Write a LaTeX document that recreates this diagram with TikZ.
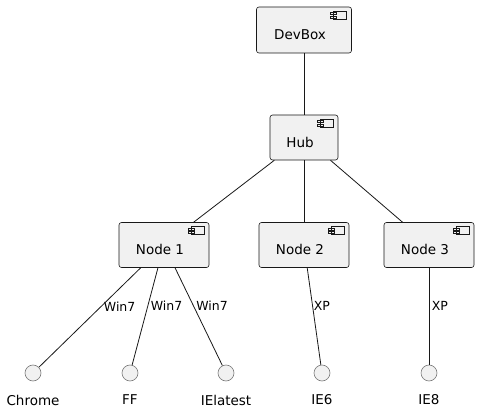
\documentclass[tikz,border=0pt]{standalone}
\usepackage{fontspec}
\setmainfont{DejaVu Sans}
\definecolor{boxfill}{HTML}{F1F1F1}
\definecolor{boxline}{HTML}{181818}
\definecolor{circline}{HTML}{7A7A7A}
\begin{document}
\begin{tikzpicture}[x=1pt,y=-1pt,
  comp/.style={draw=boxline, fill=boxfill, rounded corners=2.5pt, line width=0.6pt,
    minimum height=45pt, inner sep=0pt, font=\fontsize{13.5}{16}\selectfont, text=black,
    text height=19.5pt, text depth=0pt,
    path picture={
      \draw[draw=boxline, fill=boxfill, line width=0.5pt, sharp corners]
      ([xshift=-18pt,yshift=-4pt]path picture bounding box.north east) rectangle ([xshift=-5pt,yshift=-12pt]path picture bounding box.north east)
      ([xshift=-21pt,yshift=-5.5pt]path picture bounding box.north east) rectangle ([xshift=-15pt,yshift=-7.5pt]path picture bounding box.north east)
      ([xshift=-21pt,yshift=-9pt]path picture bounding box.north east) rectangle ([xshift=-15pt,yshift=-11pt]path picture bounding box.north east);
    }},
  iface/.style={circle, draw=circline, fill=boxfill, line width=0.6pt, minimum size=16pt, inner sep=0pt},
  lbl/.style={font=\fontsize{13.5}{16}\selectfont, text=black},
  elbl/.style={font=\fontsize{12.5}{15}\selectfont, text=black, anchor=west, xshift=2.5pt, inner sep=0pt},
  conn/.style={draw=boxline, line width=0.8pt}]
\useasboundingbox (0,0) rectangle (487,419);

\node[comp, minimum width=95pt, minimum height=46pt] (devbox) at (304,30) {DevBox\hspace*{8pt}};
\node[comp, minimum width=68pt] (hub) at (304,137.5) {Hub\hspace*{8pt}};
\node[comp, minimum width=90pt] (n1) at (164,245) {Node 1\hspace*{8pt}};
\node[comp, minimum width=90pt] (n2) at (304,245) {Node 2\hspace*{8pt}};
\node[comp, minimum width=90pt] (n3) at (429,245) {Node 3\hspace*{8pt}};

\node[iface] (chrome) at (33,373) {};
\node[iface] (ff) at (130,373) {};
\node[iface] (ielatest) at (226,373) {};
\node[iface] (ie6) at (322,373) {};
\node[iface] (ie8) at (429,373) {};

\node[lbl] (tchrome) at (33,400) {Chrome};
\node[lbl] (tff) at (130,400) {FF};
\node[lbl] (tielatest) at (226,400) {IElatest};
\node[lbl] (tie6) at (322,400) {IE6};
\node[lbl] (tie8) at (429,400) {IE8};

\draw[conn] (devbox) -- (hub);
\draw[conn] (hub) -- (n1);
\draw[conn] (hub) -- (n2);
\draw[conn] (hub) -- (n3);

\draw[conn] (n1) -- node[elbl, pos=0.39] {Win7} (chrome);
\draw[conn] (n1) -- node[elbl, pos=0.39] {Win7} (ff);
\draw[conn] (n1) -- node[elbl, pos=0.39] {Win7} (ielatest);
\draw[conn] (n2) -- node[elbl, pos=0.39, xshift=-1.5pt] {XP} (ie6);
\draw[conn] (n3) -- node[elbl, pos=0.39] {XP} (ie8);
\end{tikzpicture}
\end{document}
